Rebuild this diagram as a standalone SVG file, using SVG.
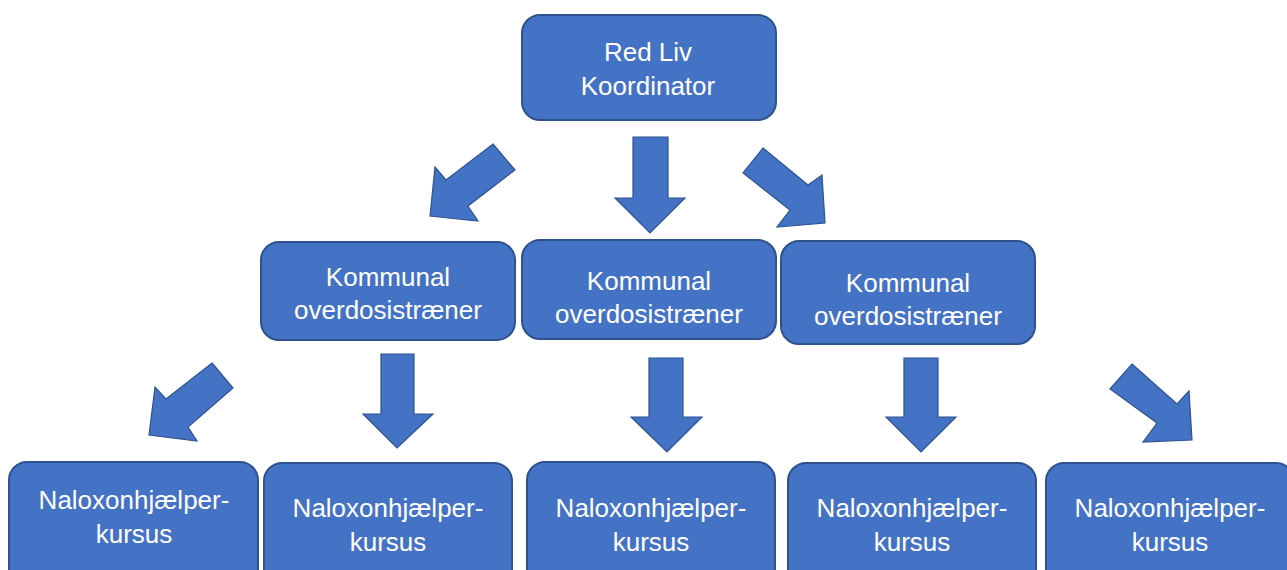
<svg xmlns="http://www.w3.org/2000/svg" width="1287" height="570" viewBox="0 0 1287 570">
<style>
.box{fill:#4472C4;stroke:#2F528F;stroke-width:2}
.arr{fill:#4472C4;stroke:#2F528F;stroke-width:1.2;stroke-linejoin:miter}
.t{fill:#FFFFFF;font-family:"Liberation Sans",Arial,sans-serif;font-size:26px;text-anchor:middle}
</style>
<rect width="1287" height="570" fill="#FFFFFF"/>
<g id="coordinator">
<rect class="box" x="522" y="15" width="254" height="105" rx="18"/>
<text class="t" x="648" y="61">Red Liv</text>
<text class="t" x="648" y="95">Koordinator</text>
</g>
<g id="trainer1">
<rect class="box" x="261" y="242" width="254" height="98" rx="18"/>
<text class="t" x="388" y="286">Kommunal</text>
<text class="t" x="388" y="319">overdosistræner</text>
</g>
<g id="trainer2">
<rect class="box" x="522" y="240" width="254" height="99" rx="18"/>
<text class="t" x="649" y="290">Kommunal</text>
<text class="t" x="649" y="323">overdosistræner</text>
</g>
<g id="trainer3">
<rect class="box" x="781" y="241" width="254" height="103" rx="18"/>
<text class="t" x="908" y="292">Kommunal</text>
<text class="t" x="908" y="325">overdosistræner</text>
</g>
<g id="course1">
<rect class="box" x="9" y="462" width="249" height="130" rx="18"/>
<text class="t" x="134" y="509">Naloxonhjælper-</text>
<text class="t" x="134" y="543">kursus</text>
</g>
<g id="course2">
<rect class="box" x="264" y="463" width="248" height="130" rx="18"/>
<text class="t" x="388" y="517">Naloxonhjælper-</text>
<text class="t" x="388" y="551">kursus</text>
</g>
<g id="course3">
<rect class="box" x="527" y="462" width="248" height="130" rx="18"/>
<text class="t" x="651" y="517">Naloxonhjælper-</text>
<text class="t" x="651" y="551">kursus</text>
</g>
<g id="course4">
<rect class="box" x="788" y="463" width="248" height="130" rx="18"/>
<text class="t" x="912" y="517">Naloxonhjælper-</text>
<text class="t" x="912" y="551">kursus</text>
</g>
<g id="course5">
<rect class="box" x="1046" y="463" width="248" height="130" rx="18"/>
<text class="t" x="1170" y="517">Naloxonhjælper-</text>
<text class="t" x="1170" y="551">kursus</text>
</g>
<g id="connectors">
<polygon class="arr" points="493,144 515,170 468,206 478,221 430,216 435,167 446,180"/>
<polygon class="arr" points="633,137 668,137 668,198 685,198 650,233 615,198 633,198"/>
<polygon class="arr" points="763,148 808,185 822,175 825,223 777,227 790,210 743,173"/>
<polygon class="arr" points="212,363 233,388 188,427 197,441 149,435 155,387 166,399"/>
<polygon class="arr" points="381,354 414,354 414,414 433,414 397,448 363,414 381,414"/>
<polygon class="arr" points="649,358 683,358 683,417 702,417 667,452 631,417 649,417"/>
<polygon class="arr" points="904,358 938,358 938,417 956,417 921,452 886,417 904,417"/>
<polygon class="arr" points="1132,364 1177,404 1189,391 1192,440 1143,442 1157,423 1110,389"/>
</g>
</svg>
